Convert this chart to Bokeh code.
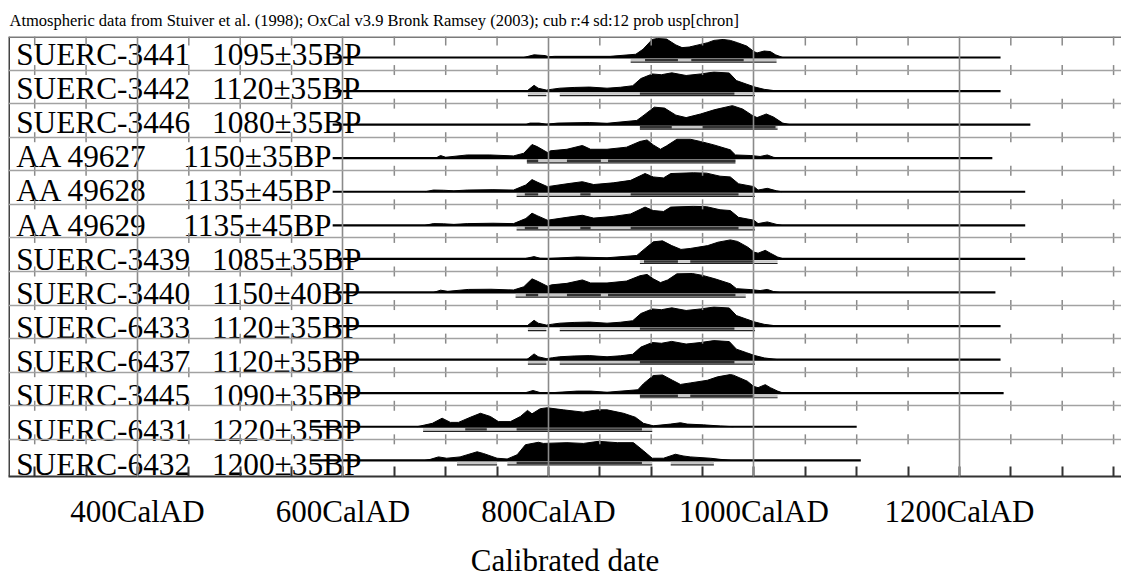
from bokeh.plotting import figure
from bokeh.models import Range1d, FixedTicker, Title, Span
from bokeh.core.properties import value
from bokeh.embed import file_html
from bokeh.resources import INLINE

title_text = ("Atmospheric data from Stuiver et al. (1998); OxCal v3.9 Bronk Ramsey (2003); "
              "cub r:4 sd:12 prob usp[chron]")

names = ["SUERC-3441", "SUERC-3442", "SUERC-3446", "AA 49627", "AA 49628", "AA 49629",
         "SUERC-3439", "SUERC-3440", "SUERC-6433", "SUERC-6437", "SUERC-3445",
         "SUERC-6431", "SUERC-6432"]
dates = ["1095±35BP", "1120±35BP", "1080±35BP", "1150±35BP", "1135±45BP", "1135±45BP",
         "1085±35BP", "1150±40BP", "1120±35BP", "1120±35BP", "1090±35BP",
         "1220±35BP", "1200±35BP"]

line_start = [590, 590, 590, 590, 590, 590, 590, 590, 590, 590, 590, 568, 568]
line_end = [1240, 1240, 1269, 1232, 1264, 1264, 1264, 1235, 1240, 1240, 1243, 1100, 1104]

# probability distributions (calendar year AD, relative probability)
yr_3441 = [776, 786, 797, 800, 806, 860, 885, 892, 901, 906, 915, 924, 930, 937, 948, 955,
           961, 970, 977, 984, 993, 1000, 1003, 1010, 1016, 1021, 1028]
pd_3441 = [0, 0.14, 0.1, 0.04, 0.06, 0.06, 0.17, 0.43, 0.95, 1.0, 0.97, 0.66, 0.52, 0.55,
           0.69, 0.78, 0.9, 0.95, 0.9, 0.78, 0.6, 0.31, 0.24, 0.34, 0.31, 0.14, 0]

yr_1120 = [779, 786, 790, 798, 804, 811, 825, 840, 857, 870, 882, 890, 901, 910, 920, 934,
           948, 961, 976, 983, 993, 1001, 1010, 1023]
pd_1120 = [0, 0.3, 0.15, 0.05, 0.1, 0.15, 0.19, 0.21, 0.15, 0.2, 0.28, 0.66, 0.9, 0.86,
           0.96, 0.82, 0.9, 1.0, 0.95, 0.55, 0.36, 0.21, 0.09, 0]

yr_3446 = [778, 782, 791, 798, 809, 840, 857, 886, 893, 903, 913, 924, 934, 948, 962, 979,
           989, 998, 1003, 1012, 1019, 1028, 1035]
pd_3446 = [0, 0.08, 0.08, 0.02, 0.08, 0.11, 0.07, 0.22, 0.5, 0.92, 0.87, 0.5, 0.37, 0.56,
           0.79, 1.0, 0.82, 0.5, 0.37, 0.56, 0.4, 0.08, 0]

yr_49627 = [690, 695, 700, 721, 743, 766, 776, 784, 789, 799, 802, 818, 833, 841, 857, 876,
            889, 896, 902, 909, 915, 925, 938, 948, 961, 977, 982, 997, 1006, 1013, 1019, 1024]
pd_49627 = [0, 0.14, 0.05, 0.17, 0.17, 0.12, 0.26, 0.72, 0.61, 0.3, 0.39, 0.47, 0.67, 0.47,
            0.47, 0.58, 0.88, 0.96, 0.7, 0.47, 0.65, 1.0, 1.0, 0.88, 0.7, 0.44, 0.17, 0.14,
            0.09, 0.17, 0.05, 0]

yr_1135 = [680, 688, 698, 708, 721, 746, 766, 778, 784, 789, 799, 818, 833, 844, 863, 880,
           894, 902, 912, 919, 941, 954, 967, 977, 985, 1000, 1004, 1013, 1022, 1027]
pd_1135 = [0, 0.09, 0.08, 0.05, 0.09, 0.11, 0.09, 0.36, 0.64, 0.51, 0.27, 0.42, 0.53, 0.38,
           0.47, 0.6, 0.96, 0.78, 0.73, 0.96, 1.0, 0.98, 0.82, 0.78, 0.42, 0.27, 0.09, 0.18,
           0.05, 0]

yr_3439 = [776, 780, 786, 792, 800, 828, 857, 886, 893, 902, 911, 920, 929, 938, 955, 965,
           977, 984, 994, 1000, 1004, 1011, 1016, 1023, 1029]
pd_3439 = [0, 0.05, 0.12, 0.03, 0.02, 0.1, 0.06, 0.18, 0.5, 0.9, 0.95, 0.7, 0.5, 0.55, 0.7,
           0.88, 1.0, 0.92, 0.62, 0.36, 0.3, 0.45, 0.3, 0.1, 0]

yr_3440 = [688, 695, 702, 722, 744, 766, 776, 784, 789, 799, 803, 818, 833, 841, 857, 876,
           889, 896, 902, 909, 916, 925, 940, 950, 962, 977, 983, 997, 1006, 1013, 1019, 1025]
pd_3440 = [0, 0.12, 0.06, 0.16, 0.17, 0.13, 0.3, 0.72, 0.6, 0.33, 0.4, 0.48, 0.66, 0.5, 0.5,
           0.6, 0.88, 0.95, 0.72, 0.52, 0.66, 0.98, 1.0, 0.9, 0.72, 0.46, 0.2, 0.15, 0.1,
           0.16, 0.05, 0]

yr_3445 = [776, 780.5, 785, 792, 799, 828, 841, 857, 887, 892.5, 902, 911, 920.7, 928.5, 938,
           954.7, 964.5, 977, 980, 993.6, 999.6, 1004, 1011, 1016, 1023, 1029]
pd_3445 = [0, 0.07, 0.14, 0.03, 0.01, 0.11, 0.11, 0.05, 0.18, 0.5, 0.93, 0.96, 0.68, 0.46,
           0.54, 0.68, 0.86, 0.98, 0.95, 0.63, 0.36, 0.29, 0.45, 0.29, 0.11, 0]

yr_6431 = [672, 687, 696.5, 704.6, 712.4, 724, 733.8, 743.5, 751.3, 763, 772.7, 779.6, 784,
           792, 798.7, 814.6, 834, 847.4, 857, 873, 884.6, 892.5, 902, 918.7, 928.5, 935, 951,
           967.4, 980]
pd_6431 = [0, 0.18, 0.45, 0.23, 0.23, 0.5, 0.71, 0.54, 0.27, 0.27, 0.54, 0.86, 0.68, 0.95,
           1.0, 0.89, 0.77, 0.89, 0.89, 0.71, 0.5, 0.18, 0.05, 0.14, 0.21, 0.14, 0.1, 0.04, 0]

yr_6432 = [680, 685, 693, 701, 714, 730.6, 736.7, 750, 759.8, 769.5, 777.6, 790.3, 795, 818,
           834, 848.7, 867, 882.7, 892.5, 901, 912, 923.6, 931, 938, 957.6, 967.4, 977]
pd_6432 = [0, 0.05, 0.18, 0.11, 0.18, 0.45, 0.36, 0.11, 0.07, 0.29, 0.82, 0.95, 0.89, 0.93,
           0.89, 1.0, 0.93, 0.93, 0.5, 0.11, 0.11, 0.32, 0.23, 0.18, 0.11, 0.05, 0]

# 68.2% (1 sigma) and 95.4% (2 sigma) ranges, AD
sig1_3441 = [(894, 926), (939, 990)]
sig2_3441 = [(880, 1022)]
sig1_1120 = [(889, 981)]
sig2_1120 = [(780, 798), (811, 1001)]
sig1_3446 = [(889, 920), (950, 1021)]
sig2_3446 = [(889, 1023)]
sig1_49627 = [(779, 790), (818, 851), (858, 982)]
sig2_49627 = [(779, 982)]
sig1_1135 = [(777, 790), (831, 841), (880, 985)]
sig2_1135 = [(769, 1001)]
sig1_3439 = [(893, 926), (938, 1000)]
sig2_3439 = [(889, 1023)]
sig1_3440 = [(778, 790), (818, 851), (858, 982)]
sig2_3440 = [(768, 992)]
sig1_3445 = [(889, 926), (938, 1000)]
sig2_3445 = [(889, 1023)]
sig1_6431 = [(719, 740), (769, 891)]
sig2_6431 = [(678, 901)]
sig1_6432 = [(769, 891)]
sig2_6432 = [(711, 750), (760, 901), (919, 961)]

tick_years = list(range(300, 1351, 50))
major_years = [400, 600, 800, 1000, 1200]
axis_title = "Calibrated date"

years = [yr_3441, yr_1120, yr_3446, yr_49627, yr_1135, yr_1135, yr_3439, yr_3440,
         yr_1120, yr_1120, yr_3445, yr_6431, yr_6432]
probs = [pd_3441, pd_1120, pd_3446, pd_49627, pd_1135, pd_1135, pd_3439, pd_3440,
         pd_1120, pd_1120, pd_3445, pd_6431, pd_6432]
sig1 = [sig1_3441, sig1_1120, sig1_3446, sig1_49627, sig1_1135, sig1_1135, sig1_3439,
        sig1_3440, sig1_1120, sig1_1120, sig1_3445, sig1_6431, sig1_6432]
sig2 = [sig2_3441, sig2_1120, sig2_3446, sig2_49627, sig2_1135, sig2_1135, sig2_3439,
        sig2_3440, sig2_1120, sig2_1120, sig2_3445, sig2_6431, sig2_6432]

# ---------------------------------------------------------------- layout
ROW_PX = 33.6            # pixel height of one row
EXTRA = 3.6 / ROW_PX     # extra space under the last row
n = len(names)
PX_PER_YR = 1.0275
W, H = 1121, 584
LEFT = 8
X0 = 274.5
X1 = X0 + (W - LEFT) / PX_PER_YR
FONT = "Liberation Serif"
NB = "\u00a0"
GAP = NB + NB + "\u2009"
name_w = max(len(s) for s in names)

p = figure(width=W, height=H, x_range=Range1d(X0, X1), y_range=Range1d(-EXTRA, n),
           output_backend="svg", toolbar_location=None, y_axis_location=None,
           min_border_left=LEFT, min_border_right=0, min_border_top=36, min_border_bottom=108,
           background_fill_color="white", border_fill_color="white")
p.outline_line_color = None

p.add_layout(Title(text=title_text, text_font=FONT, text_font_size="16.5px",
                   text_font_style="normal", align="left", offset=1, standoff=14,
                   text_color="black"), "above")

# grids (drawn over the curves, as in OxCal)
p.xgrid.ticker = FixedTicker(ticks=major_years)
p.xgrid.grid_line_color = "#8a8a8a"
p.xgrid.grid_line_width = 1.6
p.xgrid.level = "overlay"
p.ygrid.ticker = FixedTicker(ticks=list(range(1, n)))
p.ygrid.grid_line_color = "#a2a2a2"
p.ygrid.grid_line_width = 1.6
p.ygrid.level = "overlay"

# x axis
ax = p.xaxis[0]
ax.ticker = FixedTicker(ticks=tick_years)
ax.major_label_overrides = {t: (f"{t}CalAD" if t in major_years else "") for t in tick_years}
ax.major_tick_in = 10
ax.major_tick_out = 0
ax.major_tick_line_color = "#333333"
ax.major_tick_line_width = 2
ax.minor_tick_line_color = None
ax.axis_line_color = "#333333"
ax.axis_line_width = 2
ax.major_label_text_font = FONT
ax.major_label_text_font_size = "31px"
ax.major_label_text_color = "black"
ax.major_label_standoff = 17
ax.axis_label = axis_title
ax.axis_label_text_font = FONT
ax.axis_label_text_font_size = "31px"
ax.axis_label_text_font_style = "normal"
ax.axis_label_text_color = "black"
ax.axis_label_standoff = 11

# borders
p.add_layout(Span(location=X0, dimension="height", line_color="#444444", line_width=3))
p.add_layout(Span(location=n, dimension="width", line_color="#7a7a7a", line_width=3))

# small ticks along each row separator
minor = [t for t in tick_years if t not in major_years]
tx, ty0, ty1 = [], [], []
for k in range(1, n):
    for t in minor:
        tx.append(t); ty0.append(k - 5 / ROW_PX); ty1.append(k + 5 / ROW_PX)
for t in minor:
    tx.append(t); ty0.append(n - 9 / ROW_PX); ty1.append(n)
p.segment(x0=tx, y0=ty0, x1=tx, y1=ty1, line_color="#8a8a8a", line_width=1.5, level="overlay")

BASE = 12.6 / ROW_PX
HGT = 19.0 / ROW_PX

for r in range(n):
    k = n - 1 - r
    base = k + BASE
    # label: text drifts slightly downward relative to the rows, as in the original
    txt_y = base + (3.4 - 0.62 * r) / ROW_PX
    label = names[r] + NB * (name_w - len(names[r])) + GAP + dates[r]
    p.text(x=[X0 + 7.7 / PX_PER_YR], y=[txt_y], text=[label],
           text_font=value(FONT), text_font_size="31.3px", text_color="black",
           text_baseline="alphabetic", text_align="left")
    # distribution
    ys = [base + v * HGT for v in probs[r]]
    p.varea(x=years[r], y1=[base] * len(ys), y2=ys, fill_color="black")
    p.line(x=years[r], y=ys, line_color="black", line_width=1)
    # baseline
    p.line(x=[line_start[r], line_end[r]], y=[base, base], line_color="black", line_width=2.2)
    # ranges
    s2 = sig2[r]
    p.segment(x0=[a for a, b in s2], x1=[b for a, b in s2],
              y0=[base - 2.6 / ROW_PX] * len(s2), y1=[base - 2.6 / ROW_PX] * len(s2),
              line_color="#c8c8c8", line_width=2.4)
    p.segment(x0=[a for a, b in s2], x1=[b for a, b in s2],
              y0=[base - 4.6 / ROW_PX] * len(s2), y1=[base - 4.6 / ROW_PX] * len(s2),
              line_color="#222222", line_width=1.2)
    s1 = sig1[r]
    p.segment(x0=[a for a, b in s1], x1=[b for a, b in s1],
              y0=[base - 2.6 / ROW_PX] * len(s1), y1=[base - 2.6 / ROW_PX] * len(s1),
              line_color="#333333", line_width=2.4)

open("out.html", "w").write(file_html(p, INLINE))
